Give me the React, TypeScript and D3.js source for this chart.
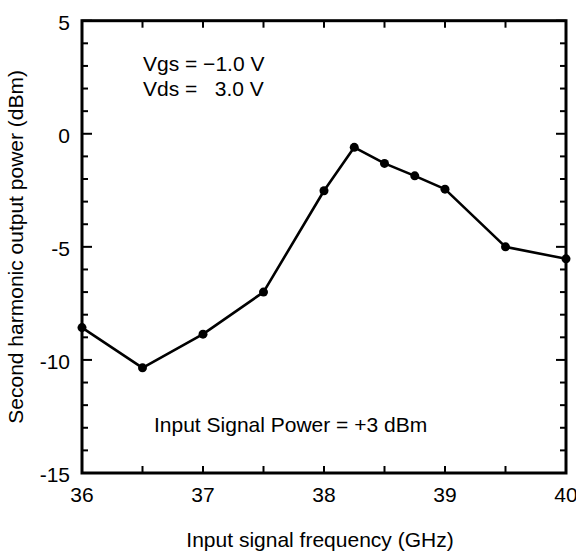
import React from "react";
import * as d3 from "d3";

const freqGHz = [36, 36.5, 37, 37.5, 38, 38.25, 38.5, 38.75, 39, 39.5, 40];
const powerDbm = [-8.57, -10.35, -8.86, -7.0, -2.52, -0.6, -1.31, -1.86, -2.45, -5.0, -5.53];
const xTickLabels = [36, 37, 38, 39, 40];
const xMinorTicks = [36.5, 37.5, 38.5, 39.5];
const yTickLabels = [5, 0, -5, -10, -15];
const yMinorTicks = d3.range(-15, 6, 1).filter((v) => v % 5 !== 0);

const W = 576;
const H = 552;
const M = { left: 82, right: 566, top: 20.7, bottom: 473 };
const FONT = "'Liberation Sans', Arial, Helvetica, sans-serif";

export default function App() {
  const x = d3.scaleLinear().domain([36, 40]).range([M.left, M.right]);
  const y = d3.scaleLinear().domain([-15, 5]).range([M.bottom, M.top]);
  const pts = freqGHz.map((f, i) => [f, powerDbm[i]] as [number, number]);
  const line = d3
    .line<[number, number]>()
    .x((d) => x(d[0]))
    .y((d) => y(d[1]));

  const majorLen = 10;
  const minorLen = 6;
  const xTickLen = 7;

  return (
    <svg
      width={W}
      height={H}
      style={{ position: "absolute", left: 0, top: 0, background: "#fff" }}
      fontFamily={FONT}
    >
      <rect x={0} y={0} width={W} height={H} fill="#fff" />
      {[...xTickLabels, ...xMinorTicks].map((v) => (
        <g key={"xt" + v} stroke="#000" strokeWidth={2}>
          <line x1={x(v)} x2={x(v)} y1={M.bottom} y2={M.bottom - xTickLen} />
          <line x1={x(v)} x2={x(v)} y1={M.top} y2={M.top + xTickLen} />
        </g>
      ))}
      {yTickLabels.map((v) => (
        <g key={"ytM" + v} stroke="#000" strokeWidth={2}>
          <line x1={M.left} x2={M.left + majorLen} y1={y(v)} y2={y(v)} />
          <line x1={M.right} x2={M.right - majorLen} y1={y(v)} y2={y(v)} />
        </g>
      ))}
      {yMinorTicks.map((v) => (
        <g key={"ytm" + v} stroke="#000" strokeWidth={2}>
          <line x1={M.left} x2={M.left + minorLen} y1={y(v)} y2={y(v)} />
          <line x1={M.right} x2={M.right - minorLen} y1={y(v)} y2={y(v)} />
        </g>
      ))}
      <rect
        x={M.left}
        y={M.top}
        width={M.right - M.left}
        height={M.bottom - M.top}
        fill="none"
        stroke="#000"
        strokeWidth={3}
      />
      {xTickLabels.map((v) => (
        <text key={"xl" + v} x={x(v)} y={502} fontSize={21} textAnchor="middle" fill="#000">
          {v}
        </text>
      ))}
      {yTickLabels.map((v) => (
        <text key={"yl" + v} x={70} y={y(v) + 9} fontSize={21} textAnchor="end" fill="#000">
          {v}
        </text>
      ))}
      <path d={line(pts) || ""} fill="none" stroke="#000" strokeWidth={2.6} strokeLinejoin="round" />
      {pts.map((d, i) => (
        <circle key={"p" + i} cx={x(d[0])} cy={y(d[1])} r={4.5} fill="#000" />
      ))}
      <text x={143} y={71} fontSize={21} fill="#000" style={{ whiteSpace: "pre" }}>
        {"Vgs = \u22121.0 V"}
      </text>
      <text x={143} y={96} fontSize={21} fill="#000" style={{ whiteSpace: "pre" }}>
        {"Vds =   3.0 V"}
      </text>
      <text x={154} y={432} fontSize={21} fill="#000">
        Input Signal Power = +3 dBm
      </text>
      <text x={(M.left + M.right) / 2 - 4} y={547} fontSize={21} textAnchor="middle" fill="#000">
        Input signal frequency (GHz)
      </text>
      <text
        transform={`translate(23, ${(M.top + M.bottom) / 2}) rotate(-90)`}
        fontSize={21}
        textAnchor="middle"
        fill="#000"
      >
        Second harmonic output power (dBm)
      </text>
    </svg>
  );
}
